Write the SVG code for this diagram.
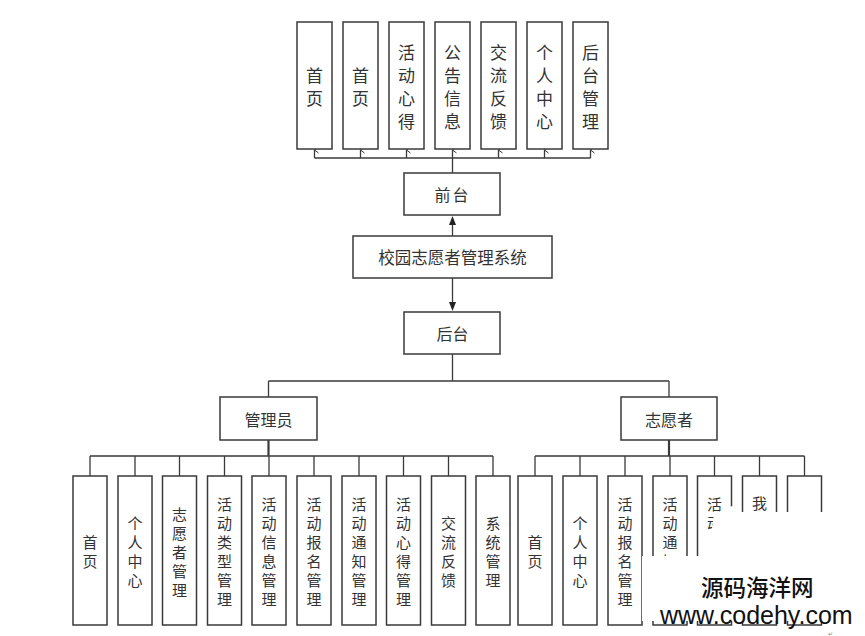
<svg xmlns="http://www.w3.org/2000/svg" width="865" height="636" viewBox="0 0 865 636">
<style>
.box{fill:#fff;stroke:#3a3a3a;stroke-width:1.5}
.ln{fill:none;stroke:#3a3a3a;stroke-width:1.3}
.t{font-family:"Noto Sans CJK SC","Noto Sans",sans-serif;fill:#333;text-anchor:middle;dominant-baseline:central}
.t17{font-size:17px}
.t16{font-size:16px}
.t15{font-size:15px}
.wm{font-family:"Noto Sans CJK SC",sans-serif;fill:#111;font-size:22.5px;font-weight:500}
.wm2{font-family:"Liberation Sans",Arial,sans-serif;fill:#111;font-size:25px}
</style>
<defs>
<marker id="open" markerWidth="8" markerHeight="6" refX="4" refY="1" orient="auto-start-reverse" markerUnits="userSpaceOnUse" viewBox="0 0 8 6">
<path d="M1,5 L4,1 L7,5" fill="none" stroke="#3a3a3a" stroke-width="1"/>
</marker>
</defs>
<rect width="865" height="636" fill="#fff"/>

<g id="connectors">
<path class="ln" d="M314.5,158 H590.5"/>
<path class="ln" d="M314.5,158 V150" marker-end="url(#open)"/>
<path class="ln" d="M360.5,158 V150" marker-end="url(#open)"/>
<path class="ln" d="M406.5,158 V150" marker-end="url(#open)"/>
<path class="ln" d="M452.5,173 V150" marker-end="url(#open)"/>
<path class="ln" d="M498.5,158 V150" marker-end="url(#open)"/>
<path class="ln" d="M544.5,158 V150" marker-end="url(#open)"/>
<path class="ln" d="M590.5,158 V150" marker-end="url(#open)"/>
<path class="ln" d="M452.5,236 V224"/>
<path d="M449,225 L452.5,216 L456,225 Z" fill="#222"/>
<path class="ln" d="M452.5,278 V303"/>
<path d="M449,302 L452.5,311 L456,302 Z" fill="#222"/>
<path class="ln" d="M452.5,354 V381 M268.5,381 H669 M268.5,381 V397 M669,381 V397"/>
<path class="ln" d="M268.5,440 V456" style="stroke-width:2.2"/>
<path class="ln" d="M90,456 H493 M90,456 V476 M135,456 V476 M179.5,456 V476 M224.5,456 V476 M269,456 V476 M314,456 V476 M359,456 V476 M403.5,456 V476 M448.5,456 V476 M493,456 V476"/>
<path class="ln" d="M669,440 V456" style="stroke-width:2.2"/>
<path class="ln" d="M535,456 H804.5 M535,456 V476 M580,456 V476 M625,456 V476 M670,456 V476 M714.5,456 V476 M759.5,456 V476 M804.5,456 V476"/>
</g>

<g id="top-1"><rect class="box" x="297" y="22" width="35" height="127"/><text class="t t17"><tspan x="314.5" y="74">首</tspan><tspan x="314.5" y="97">页</tspan></text></g>
<g id="top-2"><rect class="box" x="343" y="22" width="35" height="127"/><text class="t t17"><tspan x="360.5" y="74">首</tspan><tspan x="360.5" y="97">页</tspan></text></g>
<g id="top-3"><rect class="box" x="389" y="22" width="35" height="127"/><text class="t t17"><tspan x="406.5" y="51">活</tspan><tspan x="406.5" y="74">动</tspan><tspan x="406.5" y="97">心</tspan><tspan x="406.5" y="120">得</tspan></text></g>
<g id="top-4"><rect class="box" x="435" y="22" width="35" height="127"/><text class="t t17"><tspan x="452.5" y="51">公</tspan><tspan x="452.5" y="74">告</tspan><tspan x="452.5" y="97">信</tspan><tspan x="452.5" y="120">息</tspan></text></g>
<g id="top-5"><rect class="box" x="481" y="22" width="35" height="127"/><text class="t t17"><tspan x="498.5" y="51">交</tspan><tspan x="498.5" y="74">流</tspan><tspan x="498.5" y="97">反</tspan><tspan x="498.5" y="120">馈</tspan></text></g>
<g id="top-6"><rect class="box" x="527" y="22" width="35" height="127"/><text class="t t17"><tspan x="544.5" y="51">个</tspan><tspan x="544.5" y="74">人</tspan><tspan x="544.5" y="97">中</tspan><tspan x="544.5" y="120">心</tspan></text></g>
<g id="top-7"><rect class="box" x="573" y="22" width="35" height="127"/><text class="t t17"><tspan x="590.5" y="51">后</tspan><tspan x="590.5" y="74">台</tspan><tspan x="590.5" y="97">管</tspan><tspan x="590.5" y="120">理</tspan></text></g>

<g id="qiantai"><rect class="box" x="404" y="173" width="96" height="42"/><text class="t t16" x="452.5" y="194" letter-spacing="2">前台</text></g>
<g id="system"><rect class="box" x="353" y="236" width="199" height="42"/><text class="t t16" x="452.5" y="257" style="font-size:16.5px">校园志愿者管理系统</text></g>
<g id="houtai"><rect class="box" x="404" y="312" width="96" height="42"/><text class="t t16" x="452.5" y="333">后台</text></g>
<g id="admin"><rect class="box" x="220" y="397" width="97" height="43"/><text class="t t16" x="268.5" y="418.5">管理员</text></g>
<g id="volunteer"><rect class="box" x="621" y="397" width="96" height="43"/><text class="t t16" x="669" y="418.5">志愿者</text></g>

<g id="a1"><rect class="box" x="73" y="476" width="34" height="149"/><text class="t t15"><tspan x="90" y="541">首</tspan><tspan x="90" y="560">页</tspan></text></g>
<g id="a2"><rect class="box" x="118" y="476" width="34" height="149"/><text class="t t15"><tspan x="135" y="522">个</tspan><tspan x="135" y="541">人</tspan><tspan x="135" y="560">中</tspan><tspan x="135" y="579">心</tspan></text></g>
<g id="a3"><rect class="box" x="162.5" y="476" width="34" height="149"/><text class="t t15"><tspan x="179.5" y="512.5">志</tspan><tspan x="179.5" y="531.5">愿</tspan><tspan x="179.5" y="550.5">者</tspan><tspan x="179.5" y="569.5">管</tspan><tspan x="179.5" y="588.5">理</tspan></text></g>
<g id="a4"><rect class="box" x="207.5" y="476" width="34" height="149"/><text class="t t15"><tspan x="224.5" y="503">活</tspan><tspan x="224.5" y="522">动</tspan><tspan x="224.5" y="541">类</tspan><tspan x="224.5" y="560">型</tspan><tspan x="224.5" y="579">管</tspan><tspan x="224.5" y="598">理</tspan></text></g>
<g id="a5"><rect class="box" x="252" y="476" width="34" height="149"/><text class="t t15"><tspan x="269" y="503">活</tspan><tspan x="269" y="522">动</tspan><tspan x="269" y="541">信</tspan><tspan x="269" y="560">息</tspan><tspan x="269" y="579">管</tspan><tspan x="269" y="598">理</tspan></text></g>
<g id="a6"><rect class="box" x="297" y="476" width="34" height="149"/><text class="t t15"><tspan x="314" y="503">活</tspan><tspan x="314" y="522">动</tspan><tspan x="314" y="541">报</tspan><tspan x="314" y="560">名</tspan><tspan x="314" y="579">管</tspan><tspan x="314" y="598">理</tspan></text></g>
<g id="a7"><rect class="box" x="342" y="476" width="34" height="149"/><text class="t t15"><tspan x="359" y="503">活</tspan><tspan x="359" y="522">动</tspan><tspan x="359" y="541">通</tspan><tspan x="359" y="560">知</tspan><tspan x="359" y="579">管</tspan><tspan x="359" y="598">理</tspan></text></g>
<g id="a8"><rect class="box" x="386.5" y="476" width="34" height="149"/><text class="t t15"><tspan x="403.5" y="503">活</tspan><tspan x="403.5" y="522">动</tspan><tspan x="403.5" y="541">心</tspan><tspan x="403.5" y="560">得</tspan><tspan x="403.5" y="579">管</tspan><tspan x="403.5" y="598">理</tspan></text></g>
<g id="a9"><rect class="box" x="431.5" y="476" width="34" height="149"/><text class="t t15"><tspan x="448.5" y="522">交</tspan><tspan x="448.5" y="541">流</tspan><tspan x="448.5" y="560">反</tspan><tspan x="448.5" y="579">馈</tspan></text></g>
<g id="a10"><rect class="box" x="476" y="476" width="34" height="149"/><text class="t t15"><tspan x="493" y="522">系</tspan><tspan x="493" y="541">统</tspan><tspan x="493" y="560">管</tspan><tspan x="493" y="579">理</tspan></text></g>

<g id="v1"><rect class="box" x="518" y="476" width="34" height="149"/><text class="t t15"><tspan x="535" y="541">首</tspan><tspan x="535" y="560">页</tspan></text></g>
<g id="v2"><rect class="box" x="563" y="476" width="34" height="149"/><text class="t t15"><tspan x="580" y="522">个</tspan><tspan x="580" y="541">人</tspan><tspan x="580" y="560">中</tspan><tspan x="580" y="579">心</tspan></text></g>
<g id="v3"><rect class="box" x="608" y="476" width="34" height="149"/><text class="t t15"><tspan x="625" y="503">活</tspan><tspan x="625" y="522">动</tspan><tspan x="625" y="541">报</tspan><tspan x="625" y="560">名</tspan><tspan x="625" y="579">管</tspan><tspan x="625" y="598">理</tspan></text></g>
<g id="v4"><rect class="box" x="653" y="476" width="34" height="149"/><text class="t t15"><tspan x="670" y="503">活</tspan><tspan x="670" y="522">动</tspan><tspan x="670" y="541">通</tspan><tspan x="670" y="560">知</tspan></text></g>
<g id="v5"><rect class="box" x="697.5" y="476" width="34" height="149"/><text class="t t15"><tspan x="714.5" y="503">活</tspan><tspan x="714.5" y="522">动</tspan></text></g>
<g id="v6"><rect class="box" x="742.5" y="476" width="34" height="149"/><text class="t t15"><tspan x="759.5" y="502">我</tspan></text></g>
<g id="v7"><rect class="box" x="787.5" y="476" width="34" height="149"/></g>

<g id="watermark">
<path d="M642,556 L708,556 L714,514 L732,506 L742,512 L865,512 L865,621 L642,621 Z" fill="#fff"/>
<text class="wm" x="701" y="596">源码海洋网</text>
<text class="wm2" x="660" y="624">www.codehy.com</text>
<text x="828" y="636" style="font-family:'DejaVu Sans',sans-serif;font-size:6px;fill:#888">↵</text>
</g>
</svg>
